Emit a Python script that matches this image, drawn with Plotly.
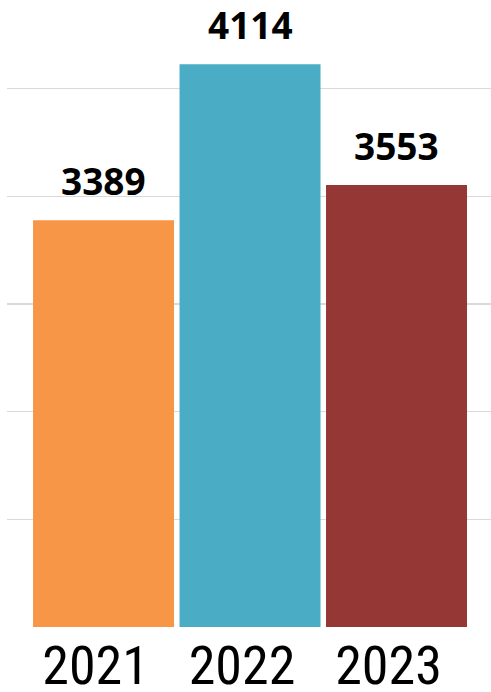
import plotly.graph_objects as go

years = ["2021", "2022", "2023"]
values = [3389, 4114, 3553]
colors = ["#F79646", "#4BACC6", "#953735"]

fig = go.Figure()
fig.add_trace(go.Bar(
    x=years, y=values, marker=dict(color=colors, line=dict(width=0)),
    hoverinfo="skip",
))
for i, v in enumerate(values):
    fig.add_annotation(
        x=i, y=v, xref="x", yref="y", text=f"<b>{v}</b>", showarrow=False,
        yanchor="bottom", yshift=12,
        font=dict(family="Noto Sans", size=37, color="#000000"),
    )

fig.update_layout(
    width=491, height=692,
    margin=dict(l=7, r=0, t=0, b=65, autoexpand=False),
    paper_bgcolor="white", plot_bgcolor="white",
    bargap=0.0375, showlegend=False,
)
fig.update_xaxes(
    type="category", range=[-0.659, 2.645], automargin=False,
    showgrid=False, zeroline=False, showline=False, ticks="",
    tickfont=dict(family="Roboto Condensed, Roboto, sans-serif", size=54, color="#000000"),
    ticklabelshift=-8, ticklabelstandoff=2,
)
fig.update_yaxes(
    range=[1500, 4412], dtick=500, tick0=1500, automargin=False,
    showgrid=True, gridcolor="#D9D9D9", gridwidth=1.5,
    zeroline=False, showline=False, showticklabels=False, ticks="",
)
fig.write_html(
    "out.html",
    config={"displayModeBar": False, "staticPlot": True},
    post_script="document.body.style.margin='0px';document.body.style.overflow='hidden';",
)
